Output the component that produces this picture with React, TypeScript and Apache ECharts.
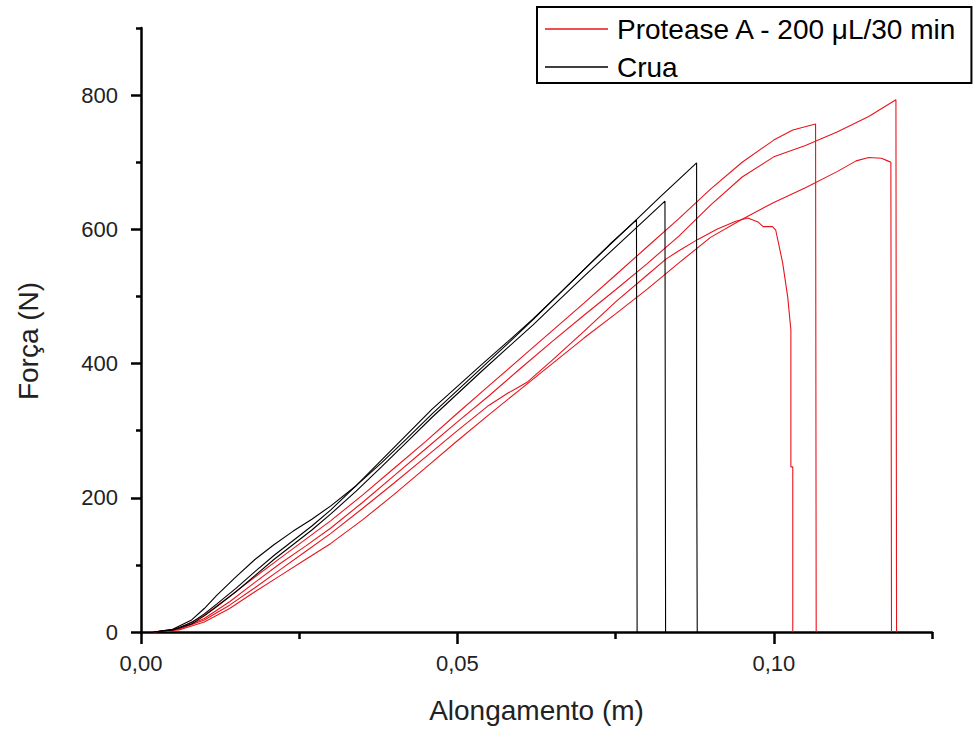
import React, { useEffect, useRef } from "react";
import * as echarts from "echarts";

const PROTEASE = "Protease A - 200 \u03bcL/30 min";
const CRUA = "Crua";
const X_TITLE = "Alongamento (m)";
const Y_TITLE = "For\u00e7a (N)";

// Crua (black) curves
const crua1X = [0.002, 0.005, 0.008, 0.010, 0.012, 0.015, 0.018, 0.021, 0.024, 0.027, 0.030, 0.034, 0.038, 0.042, 0.046, 0.050, 0.054, 0.058, 0.062, 0.066, 0.070, 0.074, 0.0783, 0.0784];
const crua1Y = [0, 4, 18, 35, 55, 82, 108, 130, 150, 168, 188, 218, 252, 288, 325, 360, 395, 430, 466, 503, 540, 577, 614, 0];

const crua2X = [0.002, 0.005, 0.008, 0.010, 0.012, 0.015, 0.018, 0.021, 0.024, 0.027, 0.030, 0.034, 0.038, 0.042, 0.046, 0.050, 0.054, 0.058, 0.062, 0.066, 0.070, 0.074, 0.078, 0.0828, 0.0829];
const crua2Y = [0, 3, 12, 24, 38, 60, 84, 108, 130, 152, 176, 210, 246, 283, 320, 355, 390, 424, 458, 494, 530, 565, 600, 642, 0];

const crua3X = [0.002, 0.005, 0.008, 0.010, 0.012, 0.015, 0.018, 0.021, 0.024, 0.027, 0.030, 0.034, 0.038, 0.042, 0.046, 0.050, 0.054, 0.058, 0.062, 0.066, 0.070, 0.074, 0.078, 0.082, 0.0878, 0.0878, 0.0879, 0.0879];
const crua3Y = [0, 3, 14, 27, 42, 65, 90, 114, 136, 158, 182, 218, 256, 294, 332, 366, 400, 433, 467, 503, 540, 576, 612, 648, 699, 311, 311, 0];

// Protease (red) curves
const protAX = [0.002, 0.006, 0.010, 0.014, 0.018, 0.022, 0.026, 0.030, 0.035, 0.040, 0.045, 0.050, 0.055, 0.058, 0.0595, 0.061, 0.065, 0.070, 0.075, 0.080, 0.083, 0.085, 0.088, 0.091, 0.094, 0.0959, 0.0975, 0.0983, 0.0998, 0.1003, 0.1014, 0.1022, 0.1027, 0.1027, 0.1030, 0.1030];
const protAY = [0, 4, 18, 40, 66, 93, 120, 147, 184, 222, 261, 300, 338, 356, 364, 372, 405, 448, 492, 532, 556, 568, 585, 600, 612, 617, 611, 604, 604, 599, 550, 499, 450, 246, 246, 0];

const protBX = [0.002, 0.006, 0.010, 0.014, 0.018, 0.022, 0.026, 0.030, 0.035, 0.040, 0.045, 0.050, 0.055, 0.060, 0.065, 0.070, 0.075, 0.080, 0.085, 0.090, 0.095, 0.100, 0.103, 0.1066, 0.1067];
const protBY = [0, 5, 25, 53, 82, 110, 138, 166, 204, 244, 284, 326, 367, 408, 449, 490, 532, 574, 616, 660, 700, 733, 748, 757, 0];

const protCX = [0.002, 0.006, 0.010, 0.014, 0.018, 0.022, 0.026, 0.030, 0.035, 0.040, 0.045, 0.050, 0.055, 0.060, 0.065, 0.070, 0.075, 0.080, 0.085, 0.090, 0.095, 0.100, 0.105, 0.110, 0.115, 0.1193, 0.1194];
const protCY = [0, 4, 20, 45, 74, 102, 128, 155, 193, 233, 273, 313, 352, 393, 433, 472, 510, 549, 590, 636, 678, 708, 725, 745, 768, 793, 0];

const protDX = [0.002, 0.006, 0.010, 0.014, 0.018, 0.022, 0.026, 0.030, 0.035, 0.040, 0.045, 0.050, 0.055, 0.060, 0.065, 0.070, 0.075, 0.080, 0.085, 0.090, 0.095, 0.100, 0.105, 0.110, 0.113, 0.115, 0.117, 0.118, 0.1185, 0.1186];
const protDY = [0, 3, 15, 35, 60, 84, 108, 132, 167, 205, 245, 285, 324, 362, 400, 438, 474, 511, 550, 588, 615, 640, 662, 686, 702, 707, 706, 702, 700, 0];

const xMajorTicks = [0, 0.05, 0.1];
const xMinorTicks = [0.025, 0.075, 0.125];
const yMajorTicks = [0, 200, 400, 600, 800];
const yMinorTicks = [100, 300, 500, 700, 900];

const RED = "#e8141c";
const BLACK = "#000000";
const FONT = "Liberation Sans, Arial, sans-serif";

function pairs(xs: number[], ys: number[]) {
  return xs.map((x, i) => [x, ys[i]]);
}

export default function App() {
  const ref = useRef<HTMLDivElement>(null);
  useEffect(() => {
    document.body.style.margin = "0";
    if (!ref.current) return;
    const chart = echarts.init(ref.current, undefined, { renderer: "svg" });
    const mk = (name: string, color: string, xs: number[], ys: number[]) => ({
      name,
      type: "line",
      data: pairs(xs, ys),
      showSymbol: false,
      symbol: "none",
      lineStyle: { color, width: 1.1 },
      itemStyle: { color },
      xAxisIndex: 0,
      yAxisIndex: 0,
    });
    const axisLineStyle = { color: BLACK, width: 2.5 };
    chart.setOption({
      animation: false,
      backgroundColor: "#ffffff",
      textStyle: { fontFamily: FONT },
      grid: { left: 141, right: 44, top: 28, bottom: 102, containLabel: false },
      graphic: [
        {
          type: "text",
          x: 28,
          y: 341,
          rotation: Math.PI / 2,
          style: {
            text: Y_TITLE,
            fontSize: 28,
            fontFamily: FONT,
            fill: "#222",
            textAlign: "center",
            textVerticalAlign: "middle",
          },
        },
      ],
      legend: {
        data: [PROTEASE, CRUA],
        orient: "vertical",
        left: 537,
        top: 7,
        icon: "rect",
        itemWidth: 63,
        itemHeight: 1.5,
        itemGap: 10,
        padding: [8, 13, 2, 8],
        borderColor: BLACK,
        borderWidth: 2,
        textStyle: { fontSize: 28, color: BLACK, fontFamily: FONT, padding: [0, 0, 0, 4] },
      },
      xAxis: [
        {
          type: "value",
          min: 0,
          max: 0.125,
          position: "bottom",
          axisLine: { show: true, lineStyle: axisLineStyle },
          axisTick: { show: true, customValues: xMajorTicks, length: 12, lineStyle: axisLineStyle },
          axisLabel: {
            customValues: xMajorTicks,
            fontSize: 22,
            color: "#222",
            margin: 20,
            formatter: (v: number) => v.toFixed(2).replace(".", ","),
          },
          splitLine: { show: false },
          name: X_TITLE,
          nameLocation: "middle",
          nameGap: 64,
          nameTextStyle: { fontSize: 28, color: "#222", fontFamily: FONT },
        },
        {
          type: "value",
          min: 0,
          max: 0.125,
          position: "bottom",
          axisLine: { show: false },
          axisTick: { show: true, customValues: xMinorTicks, length: 7, lineStyle: axisLineStyle },
          axisLabel: { show: false },
          splitLine: { show: false },
        },
      ],
      yAxis: [
        {
          type: "value",
          min: 0,
          max: 900,
          position: "left",
          axisLine: { show: true, lineStyle: axisLineStyle },
          axisTick: { show: true, customValues: yMajorTicks, length: 10, lineStyle: axisLineStyle },
          axisLabel: { customValues: yMajorTicks, fontSize: 22, color: "#222", margin: 23 },
          splitLine: { show: false },
        },
        {
          type: "value",
          min: 0,
          max: 900,
          position: "left",
          axisLine: { show: false },
          axisTick: { show: true, customValues: yMinorTicks, length: 5, lineStyle: axisLineStyle },
          axisLabel: { show: false },
          splitLine: { show: false },
        },
      ],
      series: [
        mk(PROTEASE, RED, protAX, protAY),
        mk(PROTEASE, RED, protBX, protBY),
        mk(PROTEASE, RED, protCX, protCY),
        mk(PROTEASE, RED, protDX, protDY),
        mk(CRUA, BLACK, crua1X, crua1Y),
        mk(CRUA, BLACK, crua2X, crua2Y),
        mk(CRUA, BLACK, crua3X, crua3Y),
      ],
    });
    return () => chart.dispose();
  }, []);
  return <div ref={ref} style={{ width: 976, height: 734 }} />;
}
